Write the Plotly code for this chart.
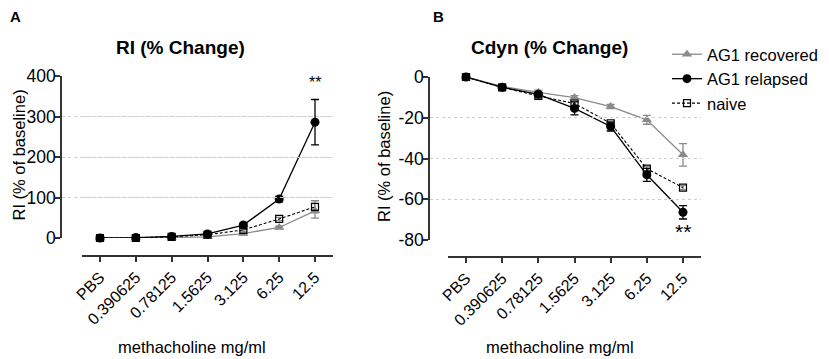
import plotly.graph_objects as go

# page body has an 8px margin, so the figure is drawn 8px in from the window corner
OFF = 8
W, H = 829 - OFF, 359 - OFF
FONT = "Arial, Liberation Sans, sans-serif"

doses = ["PBS", "0.390625", "0.78125", "1.5625", "3.125", "6.25", "12.5"]
xi = list(range(len(doses)))

# Panel A: RI (% change)
ri_ticks = [0, 100, 200, 300, 400]
ri_recovered = [0, 0, 1, 3, 11, 26, 67]
ri_recovered_err = [0, 0.5, 1, 1, 3, 3, 18]
ri_relapsed = [0, 1, 4, 10, 32, 96, 286]
ri_relapsed_err = [0, 0.5, 1, 2, 4, 7, 56]
ri_naive = [0, 0, 3, 8, 20, 47, 77]
ri_naive_err = [0, 0.5, 1, 1, 3, 4, 15]

# Panel B: Cdyn (% change)
cd_ticks = [0, -20, -40, -60, -80]
cd_recovered = [0, -4.6, -7.5, -10.1, -14.5, -21, -38.2]
cd_recovered_err = [0, 0.5, 1, 1, 1, 2.2, 5.5]
cd_relapsed = [0, -5.1, -8.5, -15.4, -24.3, -48, -66.4]
cd_relapsed_err = [0, 0.5, 1, 3.2, 2.2, 3.2, 3.3]
cd_naive = [0, -5.1, -9.3, -13, -22.7, -45, -54.3]
cd_naive_err = [0, 0.5, 1, 1, 1, 1, 1]

def px(x):
    return (x - OFF) / W

def py(y):
    return 1 - (y - OFF) / H

# layout geometry (screen pixels)
A_YAX, A_XL, A_XR, A_FIRST, A_LAST = 62, 82, 333, 100, 315
B_YAX, B_XL, B_XR, B_FIRST, B_LAST = 430, 448, 701, 466, 683

def xr(left, right, first, last, n):
    unit = (last - first) / (n - 1)
    return [-(first - left) / unit, (n - 1) + (right - last) / unit]

GRAY = "#8a8a8a"
styles = {
    "AG1 recovered": dict(marker=dict(symbol="triangle-up", size=9, color=GRAY),
                          line=dict(color=GRAY, width=1.3), ecolor=GRAY, rank=1),
    "AG1 relapsed": dict(marker=dict(symbol="circle", size=9, color="black"),
                         line=dict(color="black", width=1.3), ecolor="black", rank=2),
    "naive": dict(marker=dict(symbol="square-open", size=7, color="black",
                              line=dict(width=1.2, color="black")),
                  line=dict(color="black", width=1.1, dash="3px,2px"), ecolor=GRAY, rank=3),
}

fig = go.Figure()

panelA = {"AG1 recovered": (ri_recovered, ri_recovered_err),
          "AG1 relapsed": (ri_relapsed, ri_relapsed_err),
          "naive": (ri_naive, ri_naive_err)}
panelB = {"AG1 recovered": (cd_recovered, cd_recovered_err),
          "AG1 relapsed": (cd_relapsed, cd_relapsed_err),
          "naive": (cd_naive, cd_naive_err)}

draw_order = ["AG1 recovered", "naive", "AG1 relapsed"]
for panel, xa, ya, show in [(panelA, "x", "y", False), (panelB, "x2", "y2", True)]:
    for name in draw_order:
        vals, errs = panel[name]
        st = styles[name]
        fig.add_trace(go.Scatter(
            x=xi, y=vals, name=name, mode="lines+markers",
            xaxis=xa, yaxis=ya, showlegend=show, legendrank=st["rank"],
            marker=st["marker"], line=st["line"], cliponaxis=False,
            error_y=dict(type="data", array=errs, visible=True,
                         color=st["ecolor"], thickness=1.3, width=4),
        ))

# empty helper traces so the offset category axes (x3, x4) are drawn
fig.add_trace(go.Scatter(x=[], y=[], xaxis="x3", yaxis="y", showlegend=False, hoverinfo="skip"))
fig.add_trace(go.Scatter(x=[], y=[], xaxis="x4", yaxis="y2", showlegend=False, hoverinfo="skip"))

axis_col = "#333333"
common_y = dict(showline=True, linecolor=axis_col, linewidth=1.5, ticks="outside",
                ticklen=5, tickcolor=axis_col, tickwidth=1.5, zeroline=False,
                showgrid=True, gridcolor="#cfcfcf", griddash="dot", gridwidth=1,
                tickfont=dict(size=17.5, color="black", family=FONT),
                ticklabelstandoff=-4,
                automargin=False, tickmode="array")
hidden_x = dict(visible=False, showgrid=False, zeroline=False, automargin=False)
common_x = dict(showline=True, linecolor=axis_col, linewidth=1.5, ticks="outside",
                ticklen=5, tickcolor=axis_col, tickwidth=1.5, zeroline=False,
                showgrid=False, tickmode="array", tickvals=xi, ticktext=doses,
                tickangle=-45, range=[-0.5, 6.5],
                tickfont=dict(size=16, color="black", family=FONT), anchor="free",
                automargin=False)

fig.update_layout(
    width=W, height=H,
    margin=dict(l=0, r=0, t=0, b=0, autoexpand=False),
    paper_bgcolor="white", plot_bgcolor="rgba(0,0,0,0)",
    font=dict(family=FONT, color="black"),
    xaxis=dict(hidden_x, domain=[px(A_YAX), px(A_XR)], anchor="y",
               range=xr(A_YAX, A_XR, A_FIRST, A_LAST, len(doses))),
    xaxis2=dict(hidden_x, domain=[px(B_YAX), px(B_XR)], anchor="y2",
                range=xr(B_YAX, B_XR, B_FIRST, B_LAST, len(doses))),
    xaxis3=dict(common_x, domain=[px(A_XL), px(A_XR)], position=py(256),
                range=xr(A_XL, A_XR, A_FIRST, A_LAST, len(doses))),
    xaxis4=dict(common_x, domain=[px(B_XL), px(B_XR)], position=py(257),
                range=xr(B_XL, B_XR, B_FIRST, B_LAST, len(doses))),
    yaxis=dict(common_y, domain=[py(238), py(76)], range=[0, 400], anchor="x",
               tickvals=ri_ticks, ticktext=[str(t) for t in ri_ticks]),
    yaxis2=dict(common_y, domain=[py(240), py(77)], range=[-80, 0], anchor="x2",
                tickvals=cd_ticks, ticktext=[str(t) for t in cd_ticks]),
    legend=dict(x=px(667), y=py(37), xanchor="left", yanchor="top",
                font=dict(size=16.5, family=FONT, color="black"),
                bgcolor="rgba(0,0,0,0)", tracegroupgap=0),
)

ann = [
    dict(text="<b>A</b>", x=px(8), y=py(6), xanchor="left", yanchor="top", font=dict(size=15)),
    dict(text="<b>B</b>", x=px(431), y=py(6), xanchor="left", yanchor="top", font=dict(size=15)),
    dict(text="<b>RI (% Change)</b>", x=px(180), y=py(47), xanchor="center", yanchor="middle", font=dict(size=19)),
    dict(text="<b>Cdyn (% Change)</b>", x=px(549), y=py(47), xanchor="center", yanchor="middle", font=dict(size=19)),
    dict(text="RI (% of baseline)", x=px(18.5), y=py(155), textangle=-90, xanchor="center", yanchor="middle",
         font=dict(size=16.5), borderpad=0),
    dict(text="RI (% of baseline)", x=px(384), y=py(157), textangle=-90, xanchor="center", yanchor="middle",
         font=dict(size=16.5), borderpad=0),
    dict(text="methacholine mg/ml", x=px(192), y=py(347), xanchor="center", yanchor="middle", font=dict(size=16.5)),
    dict(text="methacholine mg/ml", x=px(560), y=py(347), xanchor="center", yanchor="middle", font=dict(size=16.5)),
]
for a in ann:
    a.update(xref="paper", yref="paper", showarrow=False)
    a["font"].update(family=FONT, color="black")
    fig.add_annotation(**a)

fig.add_annotation(text="**", x=6, y=383, xref="x", yref="y", showarrow=False,
                   font=dict(size=16, family=FONT, color="black"))
fig.add_annotation(text="**", x=6, y=-76, xref="x2", yref="y2", showarrow=False,
                   font=dict(size=21, family=FONT, color="black"))

fig.write_html("out.html")
